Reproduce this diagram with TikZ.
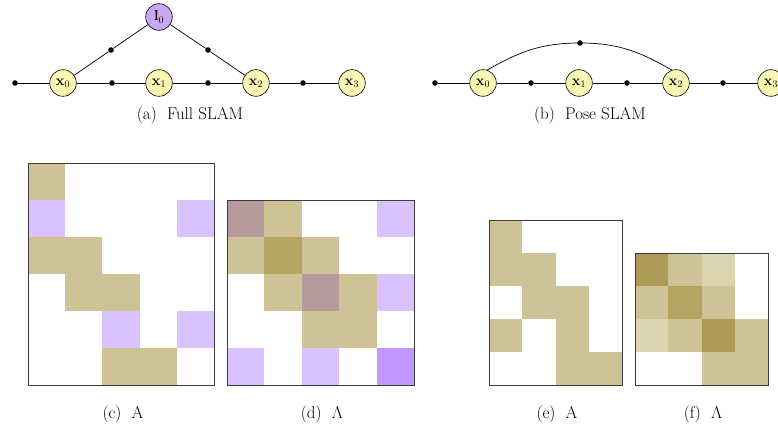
\documentclass[tikz,border=0pt]{standalone}
\usepackage{amsmath}
\definecolor{varyellow}{RGB}{251,246,180}
\definecolor{lmpurple}{RGB}{199,168,242}
\definecolor{tanc}{RGB}{205,195,150}
\definecolor{purpc}{RGB}{217,194,255}
\definecolor{mauvec}{RGB}{181,154,156}
\definecolor{dtanc}{RGB}{181,165,98}
\definecolor{dpurpc}{RGB}{193,151,255}
\definecolor{fdarkc}{RGB}{173,154,85}
\definecolor{fmidc}{RGB}{180,164,98}
\definecolor{flightc}{RGB}{220,211,176}
\definecolor{framec}{RGB}{60,60,60}
\tikzset{
  varnode/.style={circle, draw, line width=0.6pt, fill=varyellow, minimum size=26.6pt, inner sep=0pt, font=\fontsize{14}{14}\selectfont},
  lmnode/.style={varnode, fill=lmpurple},
  facnode/.style={circle, fill=black, minimum size=5.6pt, inner sep=0pt},
  edge/.style={line width=0.7pt},
  captext/.style={anchor=base, font=\fontsize{17}{17}\selectfont},
  matframe/.style={draw=framec, line width=0.8pt}
}
\begin{document}
\begin{tikzpicture}[x=1pt, y=-1pt]
\useasboundingbox (0,0) rectangle (778,427);
% ---------- (a) Full SLAM ----------
\node[varnode] (ax0) at (63,83) {$\mathbf{x}_0$};
\node[varnode] (ax1) at (159,83) {$\mathbf{x}_1$};
\node[varnode] (ax2) at (256,83) {$\mathbf{x}_2$};
\node[varnode] (ax3) at (352,83) {$\mathbf{x}_3$};
\node[lmnode] (al0) at (159,17) {$\mathbf{l}_0$};
\node[facnode] (af0) at (15,83) {};
\node[facnode] (af1) at (112,83) {};
\node[facnode] (af2) at (208,83) {};
\node[facnode] (af3) at (303,83) {};
\node[facnode] (afl0) at (111,50) {};
\node[facnode] (afl2) at (208,50) {};
\draw[edge] (af0) -- (ax0) -- (af1) -- (ax1) -- (af2) -- (ax2) -- (af3) -- (ax3);
\draw[edge] (ax0) -- (afl0) -- (al0) -- (afl2) -- (ax2);
\node[captext] (capa) at (190,120) {(a)\ \ Full SLAM};
% ---------- (b) Pose SLAM ----------
\node[varnode] (bx0) at (483,83) {$\mathbf{x}_0$};
\node[varnode] (bx1) at (579,83) {$\mathbf{x}_1$};
\node[varnode] (bx2) at (676,83) {$\mathbf{x}_2$};
\node[varnode] (bx3) at (771,83) {$\mathbf{x}_3$};
\node[facnode] (bf0) at (435,83) {};
\node[facnode] (bf1) at (531,83) {};
\node[facnode] (bf2) at (627,83) {};
\node[facnode] (bf3) at (723,83) {};
\node[facnode] (bfa) at (580,43) {};
\draw[edge] (bf0) -- (bx0) -- (bf1) -- (bx1) -- (bf2) -- (bx2) -- (bf3) -- (bx3);
\draw[edge] (bx0.72) to[out=30, in=180] (bfa.center) to[out=0, in=150] (bx2.108);
\node[captext] (capb) at (590,120) {(b)\ \ Pose SLAM};
% ---------- (c) A ----------
\begin{scope}[shift={(28,163)}, x=37.2pt, y=-37pt]
  \foreach \c/\r in {0/0, 0/2, 1/2, 1/3, 2/3, 2/5, 3/5}
    \fill[tanc] (\c,\r) rectangle ++(1,1);
  \foreach \c/\r in {0/1, 4/1, 2/4, 4/4}
    \fill[purpc] (\c,\r) rectangle ++(1,1);
  \draw[matframe] (0,0) rectangle (5,6);
\end{scope}
\node[captext] (capc) at (123,418) {(c)\ \ A};
% ---------- (d) Lambda ----------
\begin{scope}[shift={(227,200)}, x=37.4pt, y=-37pt]
  \foreach \c/\r in {1/0, 0/1, 2/1, 1/2, 3/2, 2/3, 3/3}
    \fill[tanc] (\c,\r) rectangle ++(1,1);
  \foreach \c/\r in {0/0, 2/2}
    \fill[mauvec] (\c,\r) rectangle ++(1,1);
  \fill[dtanc] (1,1) rectangle ++(1,1);
  \foreach \c/\r in {4/0, 4/2, 0/4, 2/4}
    \fill[purpc] (\c,\r) rectangle ++(1,1);
  \fill[dpurpc] (4,4) rectangle ++(1,1);
  \draw[matframe] (0,0) rectangle (5,5);
\end{scope}
\node[captext] (capd) at (322,418) {(d)\ \ $\Lambda$};
% ---------- (e) A ----------
\begin{scope}[shift={(489,220)}, x=33.25pt, y=-33pt]
  \foreach \c/\r in {0/0, 0/1, 1/1, 1/2, 2/2, 0/3, 2/3, 2/4, 3/4}
    \fill[tanc] (\c,\r) rectangle ++(1,1);
  \draw[matframe] (0,0) rectangle (4,5);
\end{scope}
\node[captext] (cape) at (557,418) {(e)\ \ A};
% ---------- (f) Lambda ----------
\begin{scope}[shift={(635,253)}, x=33.25pt, y=-33pt]
  \foreach \c/\r in {1/0, 0/1, 2/1, 1/2, 3/2, 2/3, 3/3}
    \fill[tanc] (\c,\r) rectangle ++(1,1);
  \foreach \c/\r in {0/0, 2/2}
    \fill[fdarkc] (\c,\r) rectangle ++(1,1);
  \fill[fmidc] (1,1) rectangle ++(1,1);
  \foreach \c/\r in {2/0, 0/2}
    \fill[flightc] (\c,\r) rectangle ++(1,1);
  \draw[matframe] (0,0) rectangle (4,4);
\end{scope}
\node[captext] (capf) at (703,418) {(f)\ \ $\Lambda$};
\end{tikzpicture}
\end{document}
